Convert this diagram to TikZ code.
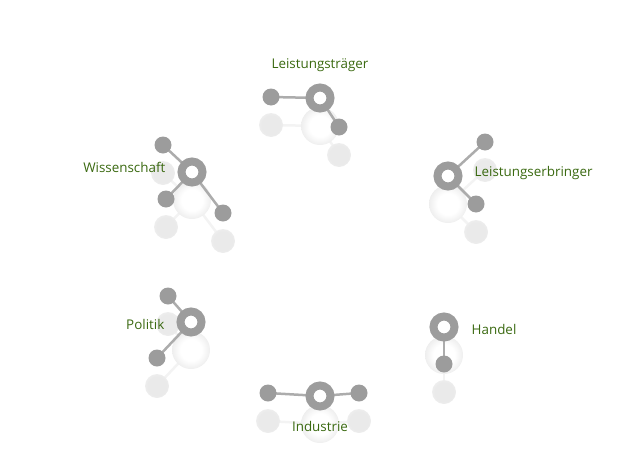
\documentclass[tikz,border=0pt]{standalone}
\usepackage{fontspec}
\setmainfont{Open Sans}
\usetikzlibrary{positioning}

\definecolor{ringgrau}{RGB}{156,156,156}
\definecolor{bindgrau}{RGB}{172,172,172}
\definecolor{spiegel}{RGB}{234,234,234}
\definecolor{spiegellinie}{RGB}{243,243,243}
\definecolor{textgruen}{RGB}{58,105,16}

\pgfdeclarelayer{hinten}
\pgfsetlayers{hinten,main}

% weiche Spiegelbilder
\pgfdeclareradialshading{spiegelpunkt}{\pgfpoint{0bp}{0bp}}{color(0bp)=(spiegel); color(20bp)=(spiegel); color(50bp)=(white)}
\pgfdeclareradialshading{spiegelring}{\pgfpoint{0bp}{0bp}}{color(0bp)=(white); color(14bp)=(white); color(28bp)=(spiegel); color(34bp)=(spiegel); color(50bp)=(white)}

\begin{document}
\begin{tikzpicture}[x=1pt, y=-1pt,
    ring/.style={circle, draw=ringgrau, line width=8pt, fill=white, inner sep=0pt, minimum size=21pt},
    atom/.style={circle, fill=ringgrau, inner sep=0pt, minimum size=17pt},
    bindung/.style={draw=bindgrau, line width=2.5pt},
    spiegelbindung/.style={draw=spiegellinie, line width=2.5pt},
    schrift/.style={text=textgruen, font=\fontsize{13.4}{15}\selectfont, inner sep=0pt}]
    \useasboundingbox (0,0) rectangle (640,450);

    % Leistungstraeger
    \node[ring] (lt) at (320,98) {};
    \node[atom] (lt1) at (271,97) {};
    \node[atom] (lt2) at (339,127) {};
    \node[schrift, above=12pt of lt] (ltname) {Leistungsträger};

    % Wissenschaft
    \node[ring] (ws) at (192,172) {};
    \node[atom] (ws1) at (163,145) {};
    \node[atom] (ws2) at (166,199) {};
    \node[atom] (ws3) at (223,213) {};
    \node[schrift, left=12pt of ws, yshift=5pt] (wsname) {Wissenschaft};

    % Leistungserbringer
    \node[ring] (le) at (448,176) {};
    \node[atom] (le1) at (485,142) {};
    \node[atom] (le2) at (476,204) {};
    \node[schrift, right=12pt of le, yshift=3pt] (lename) {Leistungserbringer};

    % Politik
    \node[ring] (po) at (191,322) {};
    \node[atom] (po1) at (168,296) {};
    \node[atom] (po2) at (157,358) {};
    \node[schrift, left=12pt of po, yshift=-2pt] (poname) {Politik};

    % Industrie
    \node[ring] (ind) at (320,396) {};
    \node[atom] (ind1) at (268,393) {};
    \node[atom] (ind2) at (359,393) {};
    \node[schrift, below=11pt of ind] (indname) {Industrie};

    % Handel
    \node[ring] (ha) at (444,327) {};
    \node[atom] (ha1) at (444,364) {};
    \node[schrift, right=13pt of ha, yshift=-2pt] (haname) {Handel};

    \begin{pgfonlayer}{hinten}
        % Spiegelbilder, 28px tiefer
        \foreach \a/\b in {lt1/lt, lt2/lt, ws1/ws, ws2/ws, ws3/ws, le1/le, le2/le, po1/po, po2/po, ind1/ind, ind2/ind, ha1/ha}
            \draw[spiegelbindung] ([yshift=-28pt]\a.center) -- ([yshift=-28pt]\b.center);
        \foreach \r in {lt, ws, le, po, ind, ha}
            \shade[shading=spiegelring] ([yshift=-28pt]\r.center) circle[radius=19pt];
        \foreach \s in {lt1, lt2, ws1, ws2, ws3, le1, le2, po1, po2, ind1, ind2, ha1}
            \shade[shading=spiegelpunkt] ([yshift=-28pt]\s.center) circle[radius=12pt];

        % Bindungen
        \foreach \a/\b in {lt1/lt, lt2/lt, ws1/ws, ws2/ws, ws3/ws, le1/le, le2/le, po1/po, po2/po, ind1/ind, ind2/ind, ha1/ha}
            \draw[bindung] (\a.center) -- (\b.center);
    \end{pgfonlayer}
\end{tikzpicture}
\end{document}
